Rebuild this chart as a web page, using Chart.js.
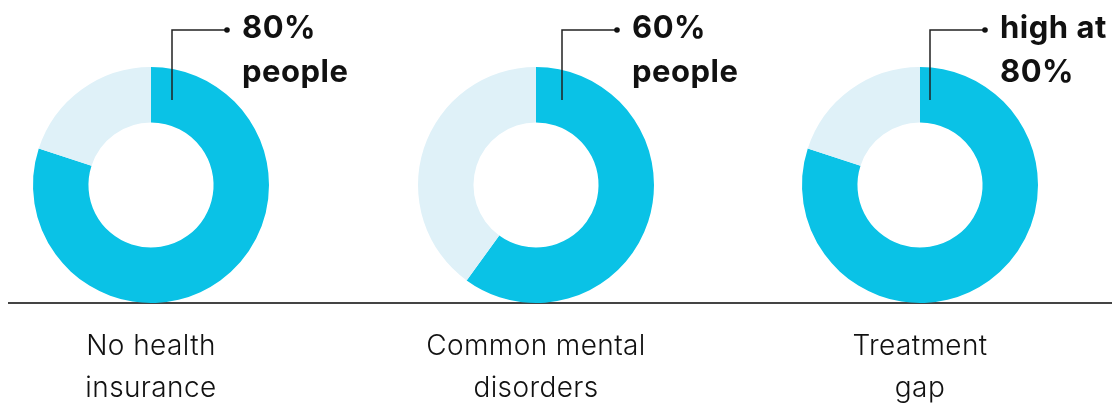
<!DOCTYPE html>
<html>
<head>
<meta charset="utf-8">
<script src="https://cdn.jsdelivr.net/npm/chart.js@4/dist/chart.umd.min.js"></script>
<style>
  body { margin: 0; background: #fff; }
  #wrap { position: relative; width: 1112px; height: 403px; overflow: hidden; }
  #baseline { position: absolute; left: 8px; right: 0; top: 302px; height: 1.5px; background: #444; }
  .cell { position: absolute; top: 0; width: 385px; height: 403px; }
</style>
</head>
<body>
<div id="wrap">
  <div id="baseline"></div>
  <div class="cell" style="left:0"><canvas id="c0"></canvas></div>
  <div class="cell" style="left:385px"><canvas id="c1"></canvas></div>
  <div class="cell" style="left:769px"><canvas id="c2"></canvas></div>
</div>
<script>
// data
const categories = [['No health', 'insurance'], ['Common mental', 'disorders'], ['Treatment', 'gap']];
const shares = [80, 60, 80];
const callouts = [['80%', 'people'], ['60%', 'people'], ['high at', '80%']];

const mainColor = '#0AC2E6';
const restColor = '#DFF1F8';
// horizontal shift of each callout from the donut centre
const calloutShift = [21, 26, 10];

// draws the callout and category label around each donut
const decorations = {
    id: 'decorations',
    afterDraw(chart, args, opts) {
        const c = chart.ctx;
        const meta = chart.getDatasetMeta(0).data[0];
        const cx = meta.x;
        const lx = cx + opts.shift;
        const top = meta.y - meta.outerRadius;
        c.save();

        // callout line
        c.strokeStyle = '#222';
        c.lineWidth = 1.5;
        c.beginPath();
        c.moveTo(lx, top + 33);
        c.lineTo(lx, 30);
        c.lineTo(lx + 55, 30);
        c.stroke();
        c.fillStyle = '#111';
        c.beginPath();
        c.arc(lx + 55, 30, 2.8, 0, Math.PI * 2);
        c.fill();

        c.font = 'bold 31px Inter, "Noto Sans", sans-serif';
        c.letterSpacing = '0.5px';
        c.textBaseline = 'alphabetic';
        c.textAlign = 'left';
        c.fillText(opts.callout[0], lx + 70, 38);
        c.fillText(opts.callout[1], lx + 70, 82);

        // category label
        c.fillStyle = '#111';
        c.font = '300 28px Inter, "Noto Sans", sans-serif';
        c.letterSpacing = '0.4px';
        c.textAlign = 'center';
        c.fillText(opts.label[0], cx, 355);
        c.fillText(opts.label[1], cx, 397);
        c.restore();
    }
};

shares.forEach((v, i) => {
    new Chart(document.getElementById('c' + i), {
        type: 'doughnut',
        data: {
            labels: ['share', 'rest'],
            datasets: [{
                data: [v, 100 - v],
                backgroundColor: [mainColor, restColor],
                borderWidth: 0
            }]
        },
        options: {
            responsive: true,
            maintainAspectRatio: false,
            animation: false,
            cutout: '53%',
            layout: { padding: { left: 33, right: 116, top: 67, bottom: 100 } },
            plugins: {
                legend: { display: false },
                tooltip: { enabled: false },
                decorations: { callout: callouts[i], label: categories[i], shift: calloutShift[i] }
            }
        },
        plugins: [decorations]
    });
});
</script>
</body>
</html>
